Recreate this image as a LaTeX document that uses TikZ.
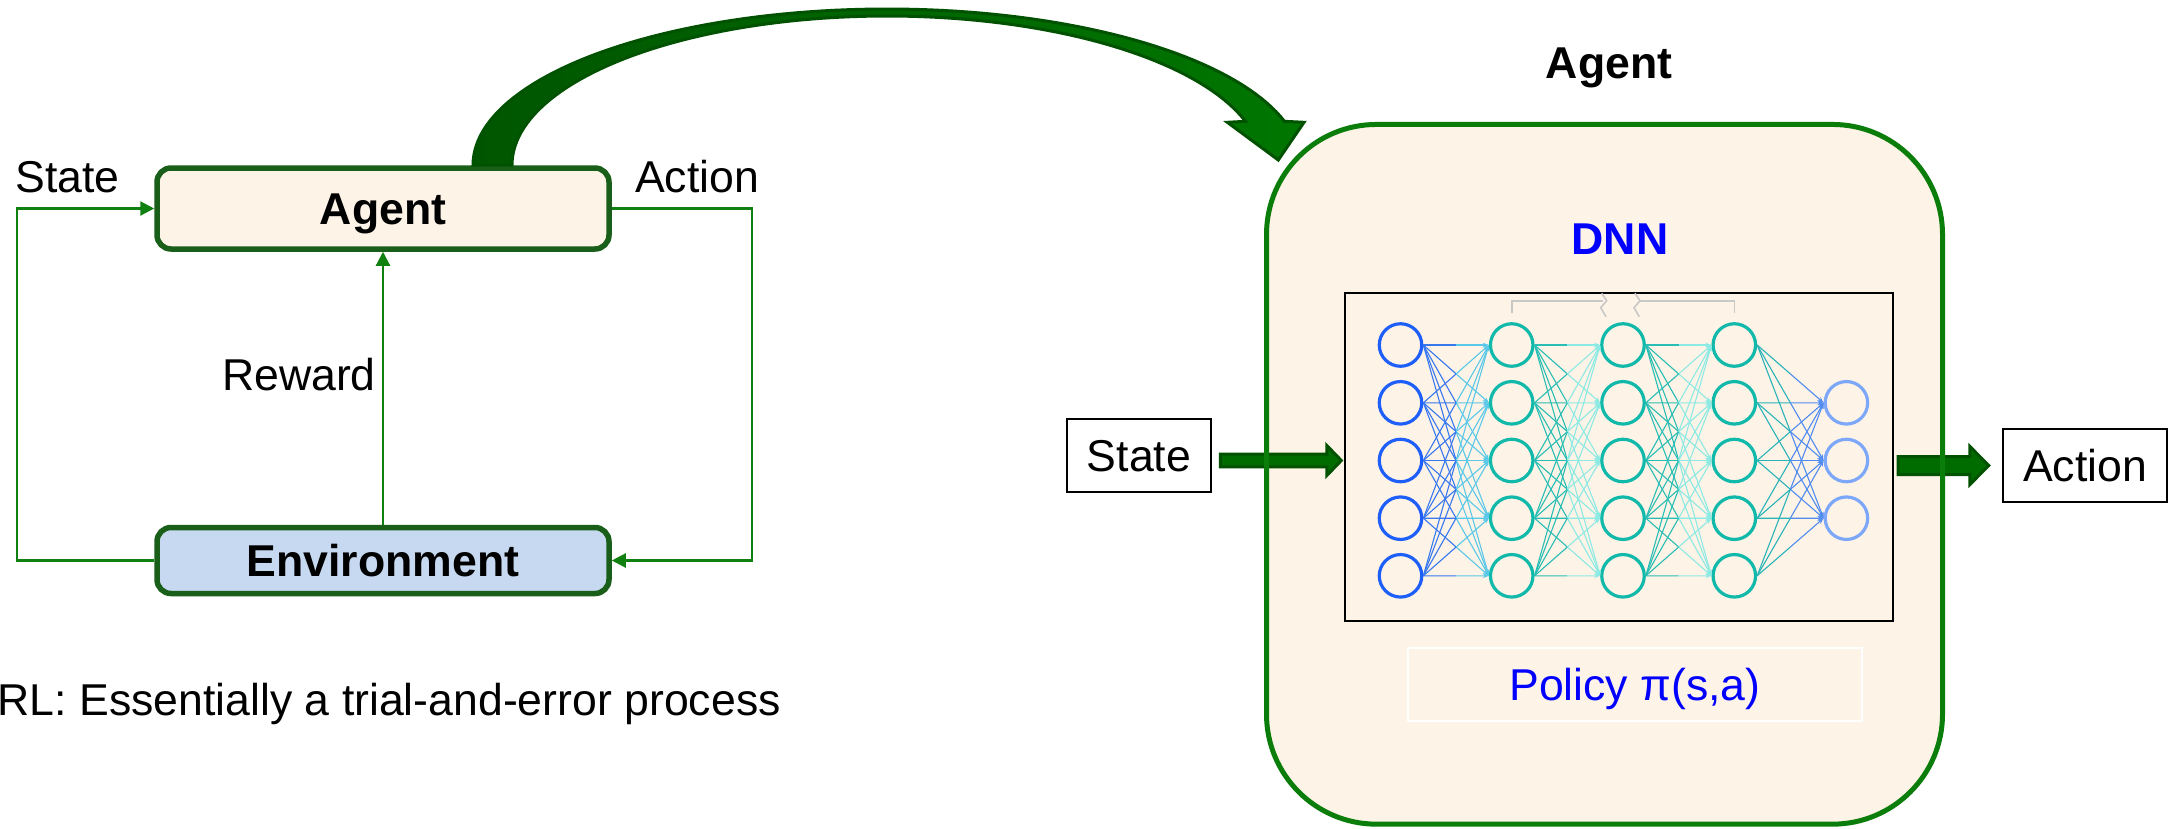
\documentclass[tikz,border=0pt]{standalone}
\usepackage{fontspec}
\setmainfont{Liberation Sans}
\usetikzlibrary{arrows.meta,calc}
\newcommand\lblfont{\fontsize{44.6}{52}\selectfont}
\definecolor{cream}{RGB}{254,243,231}
\definecolor{envblue}{RGB}{198,217,240}
\definecolor{boxgreen}{RGB}{25,95,25}
\definecolor{lingreen}{RGB}{16,128,16}
\definecolor{biggreen}{RGB}{10,125,10}
\definecolor{arrfill}{RGB}{0,108,0}
\definecolor{arrdraw}{RGB}{0,82,0}
\definecolor{arrdark}{RGB}{0,86,0}
\definecolor{arrlight}{RGB}{0,118,0}
\definecolor{inblue}{RGB}{30,95,250}
\definecolor{hidteal}{RGB}{16,185,170}
\definecolor{outblue}{RGB}{125,168,250}
\definecolor{eblueA}{RGB}{55,120,240}
\definecolor{eblueB}{RGB}{90,200,232}
\definecolor{etealA}{RGB}{40,190,180}
\definecolor{etealB}{RGB}{140,234,228}
\definecolor{eoutA}{RGB}{40,180,185}
\definecolor{eoutB}{RGB}{80,140,240}
\definecolor{brkgray}{RGB}{200,200,200}
\definecolor{pblue}{RGB}{0,0,255}
\begin{document}
\begin{tikzpicture}[x=1pt,y=-1pt,
  lbl/.style={inner sep=0pt, text height=31.5pt, text depth=0pt, font=\lblfont},
  leftbox/.style={lbl, draw=boxgreen, line width=5.5pt, rounded corners=14pt,
                  minimum width=452pt, font=\lblfont\bfseries},
  conn/.style={draw=lingreen, line width=2.2pt, -{Triangle[length=14pt,width=14pt]}},
  plainbox/.style={lbl, draw=black, fill=white, line width=2pt},
  blockarr/.style={draw=arrdraw, fill=arrfill, line width=3pt, line join=miter},
  bigarrow/.style={draw=arrdraw, line width=3pt, left color=arrdark, right color=arrlight},
  neuron/.style={circle, minimum size=42.5pt, inner sep=0pt, line width=3.2pt},
  edge/.style={line width=1.1pt},
  brk/.style={draw=brkgray, line width=1.6pt}
]
\useasboundingbox (0,0) rectangle (2175,828);
\fill[white] (0,0) rectangle (2175,828);

% ---------- left: RL loop ----------
\node[leftbox, fill=cream, minimum height=81pt] (agentL) at (383,208.5) {Agent};
\node[leftbox, fill=envblue, minimum height=66pt] (envL) at (383,560.5) {Environment};
\node[lbl] (stateL) at (67.5,176.5) {State};
\node[lbl] (actionL) at (697,176.5) {Action};
\node[lbl, anchor=east] (reward) at (376,374.5) {Reward};
\node[lbl, anchor=east] (rl) at (781,700) {RL: Essentially a trial-and-error process};

\draw[conn] (envL.west) -- ++(-137,0) |- (agentL.west);
\draw[conn] (agentL.east) -- ++(140,0) |- (envL.east);
\draw[conn] (envL.north) -- (agentL.south);

% ---------- big curved arrow ----------
\draw[bigarrow]
  plot[domain=180:343.73, samples=90] ({887+414*cos(\x)},{165+156*sin(\x)})
  -- (1304,122.3) -- (1278.3,160) -- (1227.3,122.3)
  -- plot[domain=342.95:180, samples=90] ({887+375*cos(\x)},{165+149*sin(\x)})
  -- cycle;

% ---------- right: agent with DNN ----------
\node[fill=cream, draw=none, outer sep=0pt, inner sep=0pt, rounded corners=110pt,
      minimum width=676pt, minimum height=699.7pt] (agentR) at (1604.5,474.3) {};
\node[lbl, font=\lblfont\bfseries] (agentT) at (1609,62.5) {Agent};
\node[lbl, font=\lblfont\bfseries, text=pblue] (dnn) at (1620,238.3) {DNN};

\node[plainbox, minimum width=144.6pt, minimum height=73.6pt] (stateR) at (1139,455.5) {State};
\node[plainbox, minimum width=164.6pt, minimum height=73pt] (actionR) at (2085,465.8) {Action};

\node[draw=black, fill=cream, line width=2pt, inner sep=0pt,
      minimum width=547.3pt, minimum height=328.6pt] (nnbox) at (1619,457) {};

\coordinate (sa) at ($(stateR.east)+(8,5)$);
\draw[blockarr] (sa) ++(0,-6.3) -- ++(106.5,0) -- ++(0,-8.7) -- ++(14.5,15)
  -- ++(-14.5,15) -- ++(0,-8.7) -- ++(-106.5,0) -- cycle;
\coordinate (sb) at ($(nnbox.east)+(4.5,8.5)$);
\draw[blockarr] (sb) ++(0,-9) -- ++(71.8,0) -- ++(0,-10) -- ++(18.7,19)
  -- ++(-18.7,19) -- ++(0,-10) -- ++(-71.8,0) -- cycle;

\draw[draw=biggreen, line width=5pt, rounded corners=110pt]
  (agentR.north west) rectangle (agentR.south east);

\node[draw=white, fill=cream, line width=2pt, inner sep=0pt, text height=31.5pt,
      text depth=0pt, font=\lblfont, text=pblue,
      minimum width=454.3pt, minimum height=73.6pt] (policy) at (1634.9,684.5) {Policy π(s,a)};

% ---------- neurons ----------
\foreach \r/\y in {1/345,2/402.8,3/460.5,4/518.2,5/575.8}
  \node[neuron, draw=inblue] (n1-\r) at (1400.5,\y) {};
\foreach \c/\x in {2/1511.7,3/1623,4/1734.3}
  \foreach \r/\y in {1/345,2/402.8,3/460.5,4/518.2,5/575.8}
    \node[neuron, draw=hidteal] (n\c-\r) at (\x,\y) {};
\foreach \r/\y in {2/402.8,3/460.5,4/518.2}
  \node[neuron, draw=outblue] (n5-\r) at (1846.4,\y) {};

% ---------- connections ----------
\foreach \a/\b/\ca/\cb in {1/2/eblueA/eblueB,2/3/etealA/etealB,3/4/etealA/etealB}
  \foreach \i in {1,...,5}
    \foreach \j in {1,...,5} {
      \draw[edge, draw=\ca] (n\a-\i.east) -- ($(n\a-\i.east)!0.5!(n\b-\j.west)$);
      \draw[edge, draw=\cb, -{Stealth[length=6pt,width=4.5pt]}]
        ($(n\a-\i.east)!0.5!(n\b-\j.west)$) -- (n\b-\j.west);
    }
\foreach \i in {1,...,5}
  \foreach \j in {2,3,4} {
    \draw[edge, draw=eoutA] (n4-\i.east) -- ($(n4-\i.east)!0.5!(n5-\j.west)$);
    \draw[edge, draw=eoutB, -{Stealth[length=6pt,width=4.5pt]}]
      ($(n4-\i.east)!0.5!(n5-\j.west)$) -- (n5-\j.west);
  }

% ---------- gray bracket with break marks ----------
\draw[brk] (1511.7,313) -- (1511.7,300.7) -- (1603,300.7);
\draw[brk] (1601.7,293.3) -- (1606.7,300.7) -- (1600.7,307.7) -- (1606,316.7);
\draw[brk] (1635,293.3) -- (1640,300.7) -- (1634,307.7) -- (1639.3,316.7);
\draw[brk] (1640,300.7) -- (1734.3,300.7) -- (1734.3,313);
\end{tikzpicture}
\end{document}
